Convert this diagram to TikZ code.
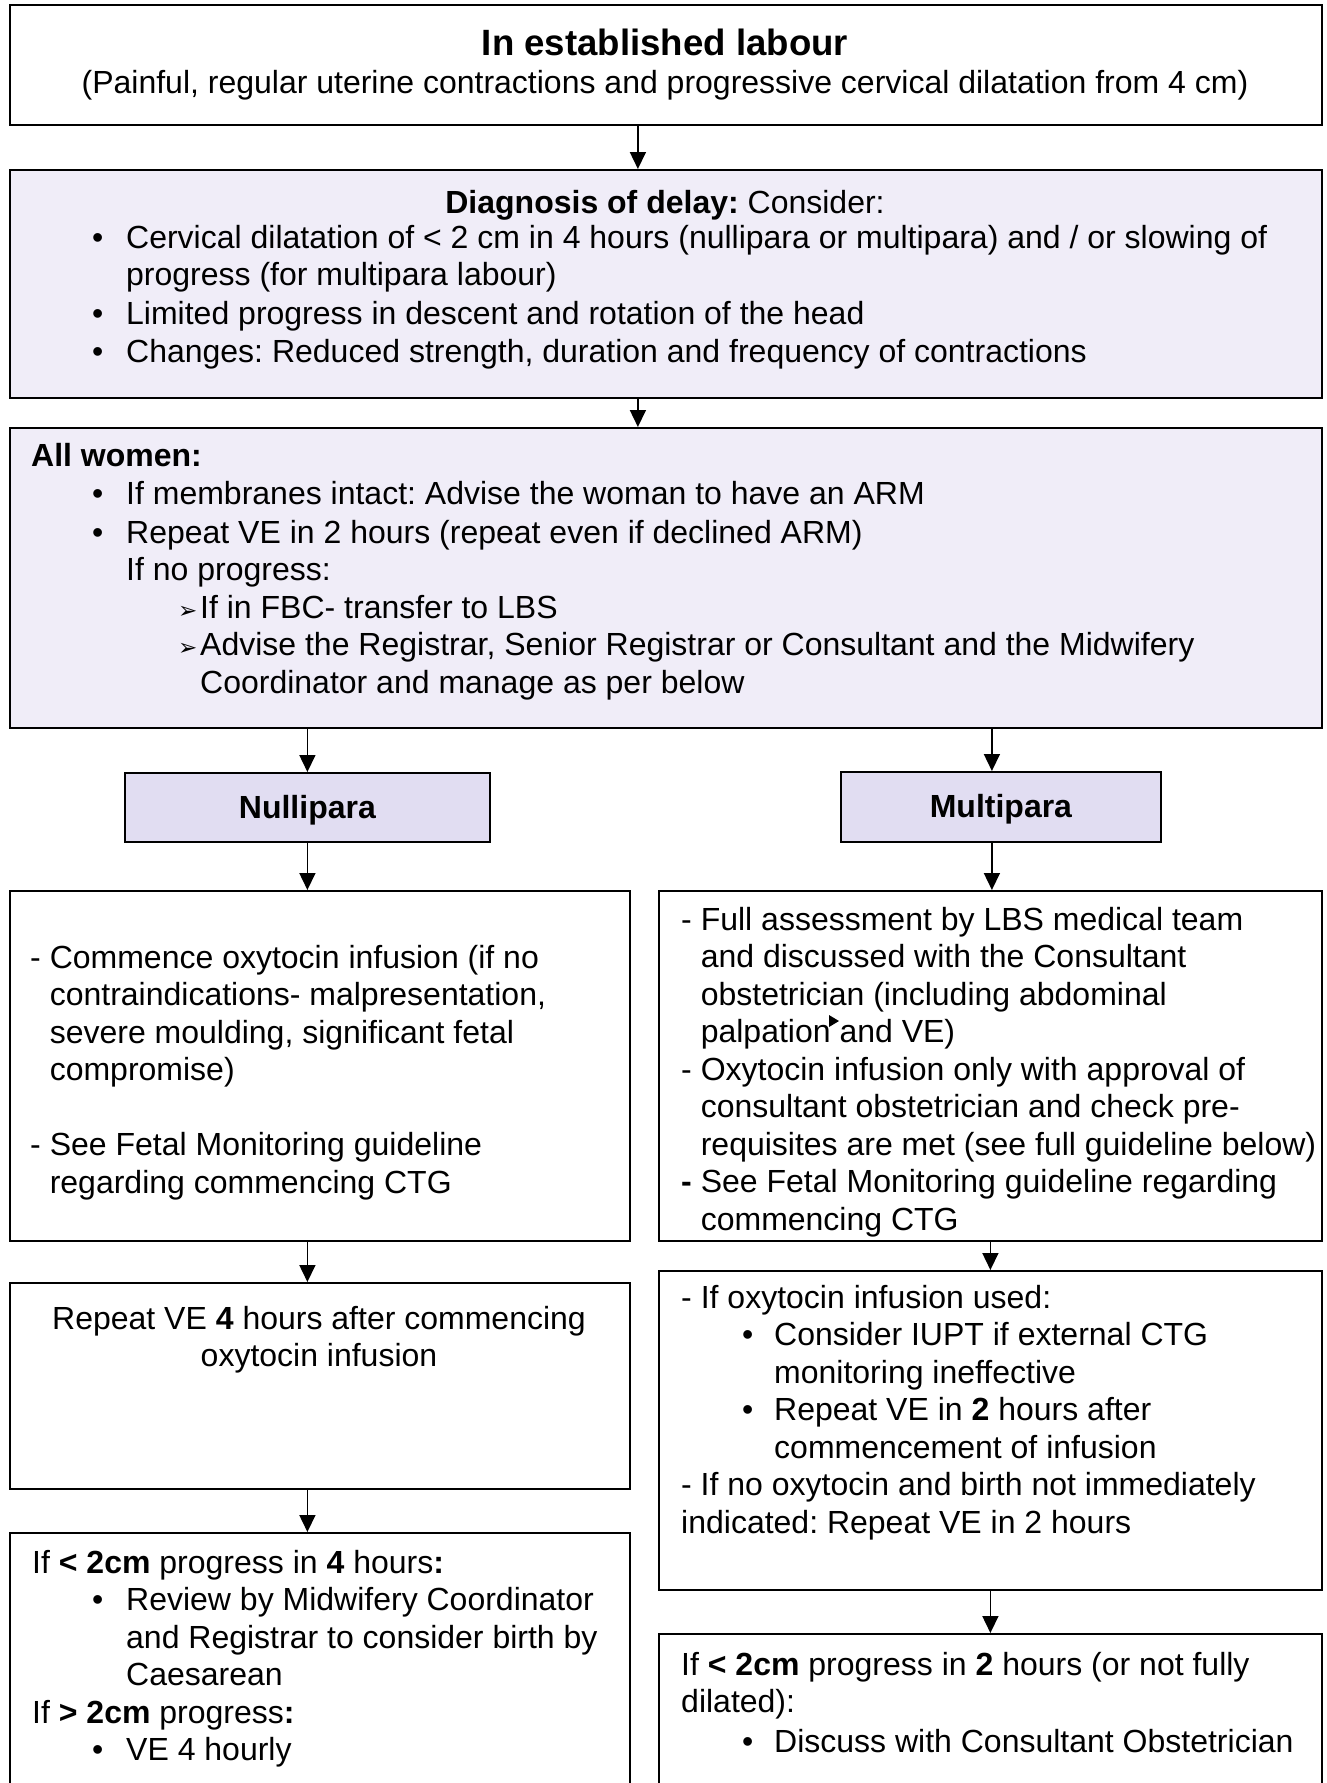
\documentclass[tikz,border=0pt]{standalone}
\usepackage{fontspec}
\setmainfont{Liberation Sans}
\newfontfamily\dejavu{DejaVu Sans}
\usetikzlibrary{arrows.meta}
\frenchspacing

\definecolor{lilac}{RGB}{240,237,248}
\definecolor{lilacdark}{RGB}{225,221,242}

\newcommand{\body}{\fontsize{32}{37.5}\selectfont}
\newcommand{\bul}{\makebox[34pt][l]{•}}
\newcommand{\rbul}{\makebox[32pt][l]{•}}
\newcommand{\arrbul}{\makebox[22pt][l]{\dejavu\fontsize{23}{23}\selectfont ➢}}
\newcommand{\dashitem}{\makebox[19.6pt][l]{-}}

\begin{document}
\begin{tikzpicture}[x=1pt, y=-1pt,
    box/.style={draw, line width=1.8pt, anchor=north west, inner sep=0pt},
    para/.style={anchor=north west, inner sep=0pt, align=left, font=\body, execute at begin node=\strut},
    line/.style={anchor=base, inner sep=0pt, font=\body},
    arr/.style={line width=1.6pt, -{Triangle[length=17pt, width=16pt]}}]
    \path[use as bounding box, clip] (0,0) rectangle (1326,1783);

    \node[box, minimum width=1312pt, minimum height=120pt] (est) at (9,4) {};
    \node[line, font=\bfseries\fontsize{36.6}{44}\selectfont] (esttitle) at (665,55) {In established labour};
    \node[line] (estsub) at (665,93) {(Painful, regular uterine contractions and progressive cervical dilatation from 4 cm)};

    \node[box, fill=lilac, minimum width=1312pt, minimum height=228pt] (delay) at (9,169) {};
    \node[line] (delaytitle) at (665,213) {\textbf{Diagnosis of delay:} Consider:};
    \node[para] (delaylist) at (92,225) {\bul Cervical dilatation of < 2 cm in 4 hours (nullipara or multipara) and / or slowing of\\
      \hspace*{34pt}progress (for multipara labour)\\[1pt]
      \bul Limited progress in descent and rotation of the head\\[1pt]
      \bul Changes: Reduced strength, duration and frequency of contractions};
    \draw[arr] ([xshift=-28pt]est.south) -- ([xshift=-28pt]delay.north);

    \node[box, fill=lilac, minimum width=1312pt, minimum height=300pt] (allw) at (9,427) {};
    \node[para] (allwtext) at (31,443) {\textbf{All women:}\\[1pt]
      \hspace*{61pt}\bul If membranes intact: Advise the woman to have an ARM\\[1pt]
      \hspace*{61pt}\bul Repeat VE in 2 hours (repeat even if declined ARM)\\
      \hspace*{95pt}If no progress:\\
      \hspace*{147pt}\arrbul If in FBC- transfer to LBS\\
      \hspace*{147pt}\arrbul Advise the Registrar, Senior Registrar or Consultant and the Midwifery\\
      \hspace*{169pt}Coordinator and manage as per below};
    \draw[arr] ([xshift=-28pt]delay.south) -- ([xshift=-28pt]allw.north);

    \node[box, fill=lilacdark, minimum width=365pt, minimum height=69pt] (nulli) at (124,772) {};
    \node[line, font=\body\bfseries] (nullitext) at ([yshift=-11pt]nulli.center) {Nullipara};
    \node[box, fill=lilacdark, minimum width=320pt, minimum height=70pt] (multi) at (840,771) {};
    \node[line, font=\body\bfseries] (multitext) at ([yshift=-11pt]multi.center) {Multipara};
    \draw[arr] (allw.south -| nulli.north) -- (nulli.north);
    \draw[arr] ([xshift=-9pt]allw.south -| multi.north) -- ([xshift=-9pt]multi.north);

    \node[box, minimum width=620pt, minimum height=350pt] (nA) at (9,890) {};
    \node[para] (nAtext) at (30,945) {\dashitem Commence oxytocin infusion (if no\\
      \hspace*{19.6pt}contraindications- malpresentation,\\
      \hspace*{19.6pt}severe moulding, significant fetal\\
      \hspace*{19.6pt}compromise)\\[37.5pt]
      \dashitem See Fetal Monitoring guideline\\
      \hspace*{19.6pt}regarding commencing CTG};
    \node[box, minimum width=663pt, minimum height=350pt] (mA) at (658,890) {};
    \node[para] (mAtext) at (681,907) {\dashitem Full assessment by LBS medical team\\
      \hspace*{19.6pt}and discussed with the Consultant\\
      \hspace*{19.6pt}obstetrician (including abdominal\\
      \hspace*{19.6pt}palpation and VE)\\
      \dashitem Oxytocin infusion only with approval of\\
      \hspace*{19.6pt}consultant obstetrician and check pre-\\
      \hspace*{19.6pt}requisites are met (see full guideline below)\\
      \makebox[19.6pt][l]{\textbf{-}}See Fetal Monitoring guideline regarding\\
      \hspace*{19.6pt}commencing CTG};
    \fill (829,1015) -- (839,1021) -- (829,1027) -- cycle;
    \draw[arr] (nulli.south) -- (nulli.south |- nA.north);
    \draw[arr] ([xshift=-9pt]multi.south) -- ([xshift=-9pt]multi.south |- mA.north);

    \node[box, minimum width=620pt, minimum height=206pt] (nB) at (9,1282) {};
    \node[para, align=center, anchor=north] (nBtext) at (319,1306) {Repeat VE \textbf{4} hours after commencing\\
      oxytocin infusion};
    \node[box, minimum width=663pt, minimum height=319pt] (mB) at (658,1270) {};
    \node[para] (mBtext) at (681,1285) {\dashitem If oxytocin infusion used:\\
      \hspace*{61pt}\rbul Consider IUPT if external CTG\\
      \hspace*{93pt}monitoring ineffective\\
      \hspace*{61pt}\rbul Repeat VE in \textbf{2} hours after\\
      \hspace*{93pt}commencement of infusion\\
      - If no oxytocin and birth not immediately\\
      indicated: Repeat VE in 2 hours};
    \draw[arr] (nulli.south |- nA.south) -- (nulli.south |- nB.north);
    \draw[arr] (mA.south) -- (mB.north);

    \node[box, minimum width=620pt, minimum height=300pt] (nC) at (9,1532) {};
    \node[para] (nCtext) at (32,1550) {If \textbf{< 2cm} progress in \textbf{4} hours\textbf{:}\\
      \hspace*{60pt}\bul Review by Midwifery Coordinator\\
      \hspace*{94pt}and Registrar to consider birth by\\
      \hspace*{94pt}Caesarean\\
      If \textbf{> 2cm} progress\textbf{:}\\
      \hspace*{60pt}\bul VE 4 hourly};
    \node[box, minimum width=663pt, minimum height=250pt] (mC) at (658,1633) {};
    \node[para] (mCtext) at (681,1652) {If \textbf{< 2cm} progress in \textbf{2} hours (or not fully\\
      dilated):\\[2pt]
      \hspace*{61pt}\rbul Discuss with Consultant Obstetrician};
    \draw[arr] (nulli.south |- nB.south) -- (nulli.south |- nC.north);
    \draw[arr] (mB.south) -- (mC.north);
\end{tikzpicture}
\end{document}
